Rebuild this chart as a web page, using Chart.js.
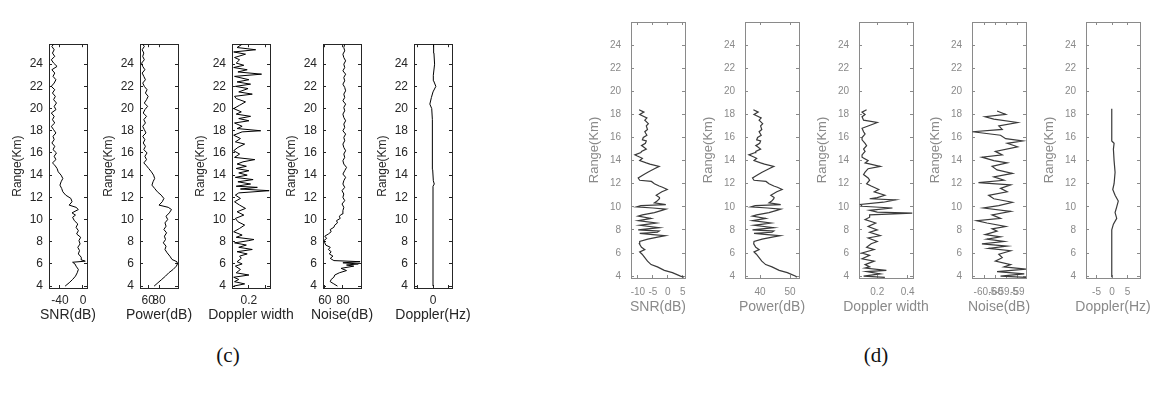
<!DOCTYPE html>
<html>
<head>
<meta charset="utf-8">
<script src="https://cdn.jsdelivr.net/npm/chart.js@4.4.0/dist/chart.umd.min.js"></script>
<style>
  body { margin: 0; background: #fff; width: 1157px; height: 394px; position: relative; overflow: hidden; }
  .cap { position: absolute; font-family: "Liberation Serif", "Times New Roman", serif; font-size: 21px; line-height: 1; transform: translate(-50%, -50%); color: #111; }
</style>
</head>
<body>
<div class="cap" style="left:228px;top:355px">(c)</div>
<div class="cap" style="left:876px;top:355px">(d)</div>
<script>
// ---- range ticks (km) ----
const rangeTicks = [4, 6, 8, 10, 12, 14, 16, 18, 20, 22, 24];

// ---- panel (c) ----
const cSnrRange = [4.0, 4.3, 4.6, 4.9, 5.2, 5.5, 5.8, 6.0,
  6.15, 6.25, 6.35, 6.6, 6.9,
  7.2, 7.5, 7.8, 8.1, 8.4, 8.7, 9.0,
  9.3, 9.6, 9.9, 10.2, 10.4, 10.6, 10.9, 11.1, 11.3, 11.6, 11.9,
  12.2, 12.5, 12.8, 13.1, 13.4, 13.7, 14.0,
  14.3, 14.6, 14.9, 15.1, 15.4, 15.7, 16.0,
  16.3, 16.6, 16.9, 17.2, 17.5, 17.8, 18.1, 18.4, 18.7, 19.0, 19.3, 19.6, 19.9, 20.2, 20.5, 20.8,
  21.1, 21.4, 21.7, 22.0, 22.3, 22.6, 22.9, 23.2, 23.5, 23.8, 24.1, 24.4, 24.7, 25.0, 25.3, 25.6,
  25.8];
const cSnr = [-31, -24, -18, -13, -10, -8, -12, -14,
  -18, 4, -2, -3, -8,
  -6, -9, -5, -7, -4, -11, -8,
  -12, -9, -15, -18, -13, -19, -8, -12, -24, -19, -21,
  -30, -35, -37, -40, -38, -35, -38,
  -43, -45, -49, -53, -47, -50, -46,
  -52, -49, -54, -50, -52, -47, -51, -55, -49, -53, -50, -55, -47, -50, -46, -51,
  -48, -53, -49, -55, -50, -47, -52, -49, -54, -45, -51, -55, -49, -53, -50, -54,
  -51];

const cPowerRange = [4.0, 4.3, 4.6, 4.9, 5.2, 5.5, 5.8, 6.0,
  6.2, 6.4, 6.7,
  7.0, 7.3, 7.6, 7.9, 8.2, 8.5, 8.8, 9.1, 9.4, 9.7, 10.0, 10.3, 10.6, 10.9,
  11.1, 11.3, 11.6, 11.9,
  12.2, 12.5, 12.8, 13.1, 13.4, 13.7, 14.0,
  14.3, 14.6, 14.9, 15.1, 15.4, 15.7, 16.0,
  16.3, 16.6, 16.9, 17.2, 17.5, 17.8, 18.1, 18.4, 18.7, 19.0, 19.3, 19.6, 19.9, 20.2, 20.5, 20.8,
  21.1, 21.4, 21.7, 22.0, 22.3, 22.6, 22.9, 23.2, 23.5, 23.8, 24.1, 24.4, 24.7, 25.0, 25.3, 25.6,
  25.8];
const cPower = [71, 78, 85, 92, 98, 106, 112, 114,
  113, 104, 100,
  95, 91, 93, 88, 92, 90, 94, 89, 93, 91, 96, 93, 99, 103,
  97, 80, 86, 89,
  84, 77, 72, 67, 69, 72, 70,
  66, 61, 56, 52, 57, 54, 58,
  52, 55, 51, 54, 50, 56, 53, 50, 55, 52, 57, 51, 54, 59, 53, 57,
  60, 55, 58, 53, 50, 55, 52, 49, 54, 50, 48, 53, 50, 52, 49, 53,
  50];

const cWidthRange = [4.0, 4.2, 4.4, 4.6, 4.8, 5.0, 5.2, 5.5, 5.8, 6.0,
  6.2, 6.5, 6.7, 6.9, 7.1, 7.3, 7.5, 7.7, 7.9, 8.1,
  8.2, 8.4, 8.6, 8.9, 9.2, 9.5, 9.8, 10.1, 10.4, 10.7,
  11.0, 11.3, 11.6, 11.9, 12.2, 12.4, 12.6, 12.75, 12.9, 13.0,
  13.2, 13.4, 13.6, 13.8, 14.0, 14.2, 14.4, 14.6, 14.8, 15.0,
  15.2, 15.4, 15.6, 15.9, 16.2, 16.5, 16.8, 17.0, 17.3, 17.6,
  17.9, 18.0, 18.2, 18.4, 18.7, 18.9, 19.1, 19.3, 19.5, 19.7,
  20.0, 20.3, 20.6, 20.9, 21.1, 21.3, 21.5, 21.8, 22.0, 22.2,
  22.4, 22.6, 22.9, 23.1, 23.3, 23.5, 23.7, 23.9, 24.1, 24.4,
  24.6, 24.9, 25.1, 25.3, 25.5, 25.8];
const cWidth = [0.02, 0.15, 0.03, 0.08, 0.02, 0.20, 0.05, 0.10, 0.04, 0.12,
  0.06, 0.11, 0.09, 0.18, 0.06, 0.24, 0.08, 0.17, 0.03, 0.20,
  0.26, 0.05, 0.12, 0.02, 0.09, 0.15, 0.07, 0.04, 0.14, 0.06,
  0.16, 0.09, 0.03, 0.10, 0.04, 0.08, 0.44, 0.10, 0.30, 0.05,
  0.22, 0.07, 0.25, 0.04, 0.18, 0.08, 0.20, 0.05, 0.17, 0.06,
  0.13, 0.27, 0.03, 0.09, 0.02, 0.07, 0.15, 0.04, 0.10, 0.02,
  0.12, 0.34, 0.06, 0.12, 0.03, 0.20, 0.08, 0.22, 0.05, 0.11,
  0.02, 0.09, 0.16, 0.05, 0.03, 0.24, 0.08, 0.19, 0.04, 0.22,
  0.06, 0.20, 0.03, 0.35, 0.07, 0.18, 0.02, 0.14, 0.05, 0.09,
  0.03, 0.16, 0.02, 0.28, 0.06, 0.12];

const cNoiseRange = [4.0, 4.2, 4.4, 4.6, 4.8, 5.0, 5.2, 5.4, 5.6, 5.8,
  5.9, 6.0, 6.1, 6.2, 6.3, 6.5, 6.7, 6.9, 7.1, 7.3,
  7.5, 7.7, 7.9, 8.1, 8.3, 8.5, 8.7, 8.9, 9.1, 9.3,
  9.5, 9.7, 9.9, 10.1, 10.3, 10.5, 10.8, 11.1, 11.4, 11.7,
  12.0, 12.3, 12.6, 12.9, 13.2, 13.5, 13.8, 14.1, 14.4, 14.7,
  15.0, 15.3, 15.6, 15.9, 16.2, 16.5, 16.8, 17.1, 17.4, 17.7,
  18.0, 18.3, 18.6, 18.9, 19.2, 19.5, 19.8, 20.1, 20.4, 20.7,
  21.0, 21.3, 21.6, 21.9, 22.2, 22.5, 22.8, 23.1, 23.4, 23.7,
  24.0, 24.3, 24.6, 24.9, 25.2, 25.5, 25.8];
const cNoise = [74, 70, 66, 67, 70, 71, 76, 84, 78, 92,
  84, 97, 80, 99, 70, 66, 69, 65, 67, 64,
  66, 61, 60, 59, 62, 60, 64, 67, 66, 70,
  71, 74, 73, 77, 76, 79, 80, 81, 79, 82,
  80, 81, 79, 82, 80, 81, 83, 80, 82, 84,
  81, 80, 82, 81, 83, 81, 80, 82, 81, 83,
  80, 82, 81, 83, 81, 80, 82, 81, 83, 80,
  82, 81, 83, 82, 80, 82, 81, 83, 80, 82,
  81, 83, 81, 80, 82, 81, 82];

const cDopplerRange = [4.0, 13.0, 13.2, 13.5, 14.5, 16.0, 17.5, 19.0, 20.0, 20.4, 21.0, 21.5, 22.0, 22.5, 23.0, 24.0, 25.0, 25.8];
const cDoppler = [0, 0, 0.4, 0.1, -0.1, -0.2, -0.1, -0.3, -0.4, -1.0, -0.5, 0, 0.9, 0.2, 0.1, 0.5, 0.3, 0.2];

// ---- panel (d) ----
const dRange = [3.9, 4.0, 4.3, 4.5, 4.8, 5.0, 5.3, 5.6, 5.9, 6.1,
  6.3, 6.5, 6.8, 7.0, 7.2, 7.4, 7.5, 7.6, 7.7, 7.8,
  7.9, 8.0, 8.2, 8.4, 8.6, 8.8, 9.0, 9.2, 9.3, 9.5,
  9.7, 9.8, 9.9, 10.0, 10.1, 10.2, 10.35, 10.5, 10.7, 10.8,
  11.0, 11.3, 11.5, 11.7, 11.8, 12.0, 12.2, 12.3, 12.5, 12.8,
  13.0, 13.3, 13.5, 13.7, 13.8, 14.0, 14.2, 14.4, 14.5, 14.7,
  14.8, 15.0, 15.2, 15.3, 15.5, 15.7, 15.8, 16.0, 16.2, 16.5,
  16.7, 17.0, 17.2, 17.5, 17.7, 18.0, 18.2, 18.4];
const dSnr = [5.3, 4.2, 1.5, -1.2, -3.5, -5.6, -6.8, -7.7, -8.6, -9.4,
  -7.7, -8.8, -9.5, -9.4, -6.7, -3.0, -0.9, -5.0, -9.4, -3.5,
  -2.9, -9.9, -2.9, -9.4, -3.9, -9.9, -5.6, -9.9, -8.5, -4.5,
  -2.0, -0.7, -5.0, -10.4, -9.0, -0.7, -4.5, -3.6, -2.9, -2.8,
  -3.9, -2.0, -0.2, -1.8, -2.9, -4.5, -5.5, -9.4, -9.9, -8.0,
  -6.7, -4.5, -2.9, -6.0, -7.2, -9.4, -8.5, -10.2, -11.0, -9.0,
  -8.8, -7.2, -8.2, -8.8, -7.5, -7.2, -8.5, -8.2, -7.0, -7.7,
  -6.8, -7.2, -6.5, -7.7, -7.0, -9.4, -8.0, -9.6];
const dPower = [52.2, 51.9, 49.1, 46.4, 44.0, 41.9, 40.6, 39.7, 38.8, 38.0,
  39.7, 38.6, 37.9, 38.0, 40.7, 44.5, 46.7, 42.5, 38.0, 44.0,
  44.6, 37.5, 44.6, 38.0, 43.6, 37.5, 41.9, 37.5, 38.9, 43.0,
  45.6, 46.9, 42.5, 37.0, 38.4, 46.9, 43.0, 43.9, 44.6, 44.7,
  43.6, 45.6, 47.4, 45.8, 44.6, 43.0, 42.0, 38.0, 37.5, 39.4,
  40.7, 43.0, 44.6, 41.5, 40.2, 38.0, 38.9, 37.2, 36.3, 38.4,
  38.6, 40.2, 39.2, 38.6, 39.9, 40.2, 38.9, 39.2, 40.4, 39.7,
  40.6, 40.2, 40.9, 39.7, 40.4, 38.0, 39.4, 37.8];

const dWidthRange = [3.9, 4.0, 4.2, 4.4, 4.5, 4.7, 4.8, 5.0, 5.3, 5.5,
  5.8, 6.0, 6.3, 6.5, 6.8, 7.0, 7.3, 7.5, 7.8, 8.0,
  8.3, 8.6, 8.9, 9.1, 9.3, 9.45, 9.55, 9.7, 9.9, 10.05,
  10.2, 10.4, 10.6, 10.7, 10.8, 11.0, 11.3, 11.5, 11.8, 12.0,
  12.3, 12.5, 12.8, 13.0, 13.3, 13.5, 13.8, 14.0, 14.3, 14.5,
  14.8, 15.0, 15.3, 15.5, 15.8, 16.0, 16.3, 16.5, 16.8, 17.0,
  17.3, 17.5, 17.8, 18.0, 18.2, 18.4];
const dWidth = [0.25, 0.11, 0.22, 0.13, 0.26, 0.12, 0.15, 0.12, 0.18, 0.10,
  0.15, 0.10, 0.18, 0.13, 0.16, 0.20, 0.14, 0.22, 0.15, 0.20,
  0.14, 0.19, 0.12, 0.15, 0.15, 0.43, 0.20, 0.15, 0.30, 0.10,
  0.09, 0.24, 0.32, 0.15, 0.20, 0.25, 0.18, 0.21, 0.16, 0.13,
  0.15, 0.14, 0.11, 0.12, 0.14, 0.22, 0.12, 0.14, 0.10, 0.10,
  0.12, 0.11, 0.13, 0.12, 0.10, 0.10, 0.12, 0.11, 0.10, 0.14,
  0.20, 0.11, 0.10, 0.12, 0.10, 0.13];

const dNoiseRange = [3.9, 4.0, 4.2, 4.4, 4.6, 4.8, 5.0, 5.3, 5.6, 5.9,
  6.2, 6.4, 6.6, 6.8, 7.0, 7.2, 7.4, 7.6, 7.9, 8.1,
  8.3, 8.6, 8.8, 9.0, 9.3, 9.6, 9.9, 10.1, 10.4, 10.7,
  11.0, 11.3, 11.6, 11.9, 12.1, 12.3, 12.6, 12.9, 13.2, 13.5,
  13.8, 14.0, 14.3, 14.5, 14.8, 15.2, 15.5, 15.7, 15.9, 16.2,
  16.5, 16.7, 17.0, 17.3, 17.6, 17.8, 18.0, 18.3];
const dNoise = [-58.6, -59.78, -58.68, -59.94, -58.6, -59.62, -59.31, -60.02, -59.7, -59.86,
  -59.31, -60.33, -59.47, -60.64, -59.62, -60.41, -59.78, -60.49, -59.94, -60.17,
  -59.54, -60.41, -60.88, -59.78, -60.17, -59.31, -60.57, -59.86, -59.23, -60.09,
  -60.33, -59.47, -59.78, -59.31, -60.8, -59.62, -60.09, -59.23, -59.94, -60.17,
  -59.47, -60.09, -60.64, -59.7, -60.02, -58.99, -59.47, -58.76, -59.54, -59.78,
  -61.08, -59.7, -59.86, -58.99, -60.09, -60.49, -59.54, -59.94];

const dDopplerRange = [3.9, 8.0, 8.5, 9.0, 9.5, 10.0, 10.5, 11.0, 11.5, 12.0, 13.0, 14.0, 15.0, 15.5, 15.7, 16.5, 18.5];
const dDoppler = [-0.1, -0.1, 0.43, 1.5, 0.97, 1.5, 2.0, 0.97, 0.22, 0.65, 0.97, 0.65, 0.43, 0.65, -0.1, -0.1, -0.1];

// ---- styles of the two figure halves ----
const fontFamily = '"Liberation Sans", Arial, sans-serif';
Chart.defaults.font.family = fontFamily;

const cStyle = {
  top: 32, h: 256, w: 38, yMin: 3.83, yMax: 25.8,
  yw: 49, padT: 4, padR: 34, xh: 36,
  xPad: 8, yPad: 9, yTitlePad: 10, xTitleY: 315,
  tickSize: 12, titleSize: 14, yTitleSize: 12,
  axis: '#262626', text: '#262626', line: '#000', lineWidth: 1, blur: false
};
const dStyle = {
  top: 7, h: 271, w: 54, yMin: 3.84, yMax: 26,
  yw: 50, padT: 4, padR: 34, xh: 40,
  xPad: 11, yPad: 13, yTitlePad: 6, xTitleY: 307,
  tickSize: 10, titleSize: 14, yTitleSize: 13,
  axis: '#8a8a8a', text: '#8a8a8a', line: '#3a3a3a', lineWidth: 1.2, blur: true
};

function setTicks(vals) {
  return (scale) => { scale.ticks = vals.map(v => ({ value: v })); };
}

// x-axis title drawn without the width limit Chart.js puts on axis titles
const xTitlePlugin = {
  id: 'xTitle',
  afterDraw(chart, args, opts) {
    const area = chart.chartArea;
    const ctx = chart.ctx;
    ctx.save();
    ctx.fillStyle = opts.color;
    ctx.font = `${opts.size}px ${fontFamily}`;
    ctx.textAlign = 'center';
    ctx.textBaseline = 'middle';
    ctx.fillText(opts.text, (area.left + area.right) / 2, opts.y);
    ctx.restore();
  }
};

function panel(o) {
  const st = o.st;
  const cv = document.createElement('canvas');
  const w = st.yw + st.w + st.padR;
  const h = st.padT + st.h + st.xh + 2;
  const canvasTop = st.top - st.padT;
  cv.width = w;
  cv.height = h;
  cv.style.cssText = `position:absolute;left:${o.left - st.yw}px;top:${canvasTop}px;width:${w}px;height:${h}px`;
  if (st.blur) cv.style.filter = 'blur(0.5px)';
  document.body.appendChild(cv);

  const grid = { drawOnChartArea: false, tickLength: -3, color: st.axis };
  const border = { color: st.axis, width: 1 };

  new Chart(cv, {
    type: 'scatter',
    data: {
      datasets: [{
        data: o.ranges.map((r, i) => ({ x: o.values[i], y: r })),
        showLine: true,
        borderColor: st.line,
        borderWidth: st.lineWidth,
        pointRadius: 0,
        tension: 0
      }]
    },
    plugins: [xTitlePlugin],
    options: {
      responsive: false,
      maintainAspectRatio: false,
      animation: false,
      events: [],
      layout: { padding: { left: 0, top: st.padT, right: st.padR, bottom: 2 } },
      plugins: {
        legend: { display: false },
        tooltip: { enabled: false },
        xTitle: { text: o.xTitle, color: st.text, size: st.titleSize, y: st.xTitleY - canvasTop }
      },
      scales: {
        x: {
          type: 'linear', position: 'bottom', min: o.xMin, max: o.xMax,
          afterBuildTicks: setTicks(o.xTicks),
          afterFit: s => { s.height = st.xh; },
          grid, border,
          ticks: {
            autoSkip: false, maxRotation: 0, padding: st.xPad, color: st.text,
            font: { size: st.tickSize },
            callback: (v, i) => o.xLabels[i]
          }
        },
        x2: {
          type: 'linear', position: 'top', min: o.xMin, max: o.xMax,
          afterBuildTicks: setTicks(o.xTicks),
          afterFit: s => { s.height = 0; },
          grid, border,
          ticks: { display: false }
        },
        y: {
          type: 'linear', position: 'left', min: st.yMin, max: st.yMax,
          afterBuildTicks: setTicks(rangeTicks),
          afterFit: s => { s.width = st.yw; },
          grid, border,
          ticks: { padding: st.yPad, color: st.text, font: { size: st.tickSize } },
          title: {
            display: true, text: 'Range(Km)', color: st.text,
            font: { size: st.yTitleSize }, padding: { top: st.yTitlePad, bottom: 0 }
          }
        },
        y2: {
          type: 'linear', position: 'right', min: st.yMin, max: st.yMax,
          afterBuildTicks: setTicks(rangeTicks),
          afterFit: s => { s.width = 0; },
          grid, border,
          ticks: { display: false }
        }
      }
    }
  });
}

// (c)
panel({ st: cStyle, left: 49, ranges: cSnrRange, values: cSnr, xMin: -59, xMax: 7,
  xTicks: [-40, 0], xLabels: ['-40', '0'], xTitle: 'SNR(dB)' });
panel({ st: cStyle, left: 140, ranges: cPowerRange, values: cPower, xMin: 45, xMax: 115,
  xTicks: [60, 80], xLabels: ['60', '80'], xTitle: 'Power(dB)' });
panel({ st: cStyle, left: 232, ranges: cWidthRange, values: cWidth, xMin: 0, xMax: 0.45,
  xTicks: [0.2, 0.4], xLabels: ['0.2', ''], xTitle: 'Doppler width' });
panel({ st: cStyle, left: 323, ranges: cNoiseRange, values: cNoise, xMin: 58, xMax: 100,
  xTicks: [60, 80], xLabels: ['60', '80'], xTitle: 'Noise(dB)' });
panel({ st: cStyle, left: 414, ranges: cDopplerRange, values: cDoppler, xMin: -6, xMax: 6,
  xTicks: [-5, 0, 5], xLabels: ['', '0', ''], xTitle: 'Doppler(Hz)' });

// (d)
panel({ st: dStyle, left: 631, ranges: dRange, values: dSnr, xMin: -12.3, xMax: 5.7,
  xTicks: [-10, -5, 0, 5], xLabels: ['-10', '-5', '0', '5'], xTitle: 'SNR(dB)' });
panel({ st: dStyle, left: 745, ranges: dRange, values: dPower, xMin: 35, xMax: 53,
  xTicks: [40, 50], xLabels: ['40', '50'], xTitle: 'Power(dB)' });
panel({ st: dStyle, left: 859, ranges: dWidthRange, values: dWidth, xMin: 0.08, xMax: 0.435,
  xTicks: [0.2, 0.4], xLabels: ['0.2', '0.4'], xTitle: 'Doppler width' });
panel({ st: dStyle, left: 972, ranges: dNoiseRange, values: dNoise, xMin: -61.1, xMax: -58.6,
  xTicks: [-60.5, -60, -59.5, -59], xLabels: ['-60.5', '-60', '-59.5', '-59'], xTitle: 'Noise(dB)' });
panel({ st: dStyle, left: 1086, ranges: dDopplerRange, values: dDoppler, xMin: -8.4, xMax: 9.0,
  xTicks: [-5, 0, 5], xLabels: ['-5', '0', '5'], xTitle: 'Doppler(Hz)' });
</script>
</body>
</html>
